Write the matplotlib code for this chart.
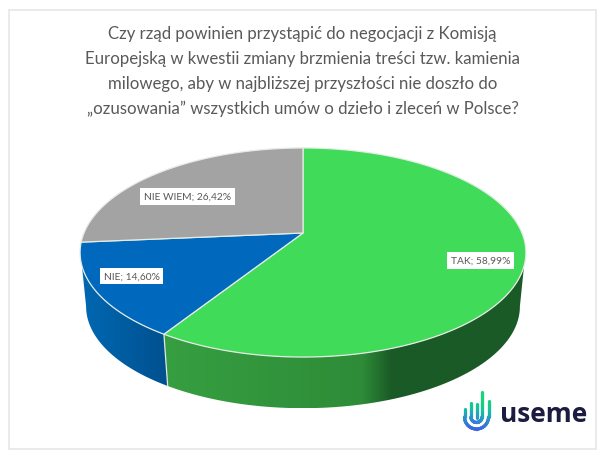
import numpy as np
from matplotlib import pyplot as plt
from matplotlib.collections import LineCollection
from matplotlib.colors import LinearSegmentedColormap
from matplotlib.patches import Polygon, Rectangle

plt.rcParams['font.family'] = ['Lato', 'DejaVu Sans']

# chart values
categories = ['TAK', 'NIE', 'NIE WIEM']
shares = [58.99, 14.60, 26.42]
share_labels = ['58,99%', '14,60%', '26,42%']
title = ('Czy rząd powinien przystąpić do negocjacji z Komisją\n'
         'Europejską w kwestii zmiany brzmienia treści tzw. kamienia\n'
         'milowego, aby w najbliższej przyszłości nie doszło do\n'
         '„ozusowania” wszystkich umów o dzieło i zleceń w Polsce?')

top_colors = ['#41db5a', '#0069bd', '#a3a3a3']
side_ramps = [[(0, '#369f41'), (0.55, '#2e8c38'), (0.63, '#1a5a27'), (1, '#1a5a27')],
              [(0, '#0068b2'), (1, '#00508f')],
              None]
label_pos = [(480.5, 261.5), (131.5, 277), (187.5, 197.5)]

# perspective of the pie, in picture pixels
APEX_X, APEX_Y = 303, 234
SX, SY, K = 219, 100.9, 0.1866
DEPTH_SCALE, DEPTH_DY = 0.973, 54.5
# where the outline of the wall leaves the top rim and meets the bottom rim
TANGENT_TOP, TANGENT_BOTTOM = 108, 100.7


def project(angle, depth=False):
    # angle in degrees, clockwise from the top of the pie
    a = np.radians(angle)
    u, v = np.sin(a), np.cos(a)
    w = 1 + K * v
    x, y = SX * u / w, -SY * v / w
    if depth:
        return APEX_X + x * DEPTH_SCALE, APEX_Y + DEPTH_DY + y * DEPTH_SCALE
    return APEX_X + x, APEX_Y + y


fig = plt.figure(figsize=(6.02, 4.56), dpi=100)
ax = fig.add_axes([0, 0, 1, 1])
ax.axis('off')

ax.add_patch(Rectangle((8.5, 10.5), 587, 439.5, fc='white', ec='#e6e6e6', lw=1.2, zorder=0.2))

edges = np.concatenate([[0], np.cumsum(shares) / np.sum(shares) * 360])

# side wall first, only the part turned to the viewer
for i in range(len(shares)):
    if side_ramps[i] is None:
        continue
    start_t, start_b = max(edges[i], TANGENT_TOP), max(edges[i], TANGENT_BOTTOM)
    stop_t, stop_b = min(edges[i + 1], 360 - TANGENT_TOP), min(edges[i + 1], 360 - TANGENT_BOTTOM)
    xt, yt = project(np.linspace(start_t, stop_t, 200))
    xb, yb = project(np.linspace(start_b, stop_b, 200), True)
    pts = np.column_stack([np.r_[xt, xb[::-1]], np.r_[yt, yb[::-1]]])
    wall = Polygon(pts, closed=True, fc='none', ec='none', transform=ax.transData)
    ax.add_patch(wall)
    cmap = LinearSegmentedColormap.from_list('side', side_ramps[i])
    x0, x1 = pts[:, 0].min(), pts[:, 0].max()
    im = ax.imshow(np.linspace(0, 1, 256).reshape(1, -1), cmap=cmap, aspect='auto', zorder=0.5,
                   extent=(x0, x1, pts[:, 1].max(), pts[:, 1].min()), interpolation='bilinear')
    im.set_clip_path(wall)

# white seam where two side walls meet
for e in edges[1:-1]:
    if TANGENT_TOP < e < 360 - TANGENT_TOP:
        p, q = project(e), project(e, True)
        ax.plot([p[0], q[0]], [p[1], q[1]], color='#dfe8e4', lw=0.9, zorder=0.8)

# top face
for i in range(len(shares)):
    arc = np.linspace(edges[i], edges[i + 1], 200)
    x, y = project(arc)
    pts = np.column_stack([np.r_[APEX_X, x], np.r_[APEX_Y, y]])
    ax.add_patch(Polygon(pts, closed=True, fc=top_colors[i], ec='#e4ece6', lw=0.9, joinstyle='round'))

ax.text(302.5, 71.5, title, ha='center', va='center', fontsize=12.07, color='#595959',
        linespacing=1.68)

for name, val, pos in zip(categories, share_labels, label_pos):
    ax.text(pos[0], pos[1], f'{name}; {val}', ha='center', va='center', fontsize=7.4,
            color='#595959',
            bbox=dict(fc='white', ec='none', boxstyle='square,pad=0.38'))

# useme logo
logo_cmap = LinearSegmentedColormap.from_list('logo', ['#16d47b', '#12c49a', '#2f8fd0', '#3b68e0'])


def logo_stroke(px, py, lw):
    px, py = np.asarray(px, float), np.asarray(py, float)
    segs = np.stack([np.column_stack([px[:-1], py[:-1]]),
                     np.column_stack([px[1:], py[1:]])], axis=1)
    t = np.clip(((py[:-1] + py[1:]) / 2 - 400) / 30, 0, 1)
    ax.add_collection(LineCollection(segs, colors=logo_cmap(t), linewidths=lw, capstyle='round'))


t = np.radians(np.linspace(180, 0, 60))
cx, cy = 476.5, 418
# outer U, inner U, middle finger
logo_stroke(np.r_[np.full(20, cx - 12), cx + 12 * np.cos(t), np.full(30, cx + 12)],
            np.r_[np.linspace(410, cy, 20), cy + 12 * np.sin(t), np.linspace(cy, 402, 30)], 2.3)
logo_stroke(np.r_[np.full(20, cx - 5.5), cx + 5.5 * np.cos(t), np.full(40, cx + 5.5)],
            np.r_[np.linspace(404, cy, 20), cy + 5.5 * np.sin(t), np.linspace(cy, 393, 40)], 2.3)
logo_stroke(np.full(20, cx), np.linspace(405, 419, 20), 2.3)

ax.text(499.5, 415, 'useme', ha='left', va='center', fontsize=19, fontweight='bold',
        color='#1b1c3f', family=['Open Sans', 'DejaVu Sans'])

ax.set_xlim(0, 602)
ax.set_ylim(456, 0)
fig.savefig('out.png', dpi=100)
